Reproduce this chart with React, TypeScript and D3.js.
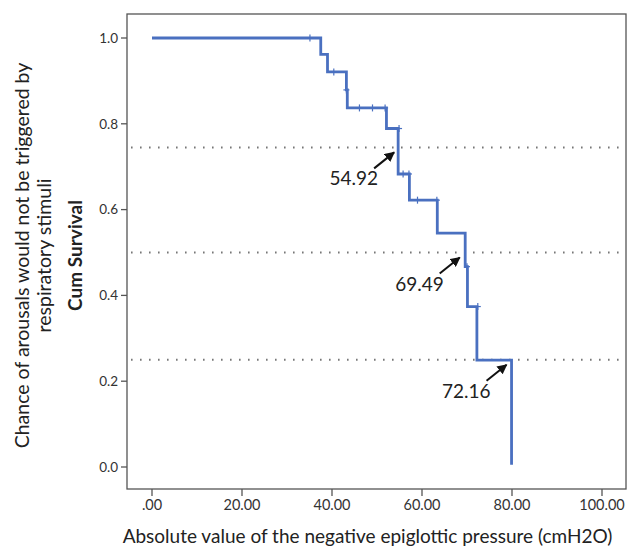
import React from "react";
import * as d3 from "d3";

// step points of the survival curve: time, survival after the drop
const stepTimes = [0, 37.5, 39.0, 43.2, 43.4, 52.1, 54.7, 57.2, 63.4, 69.6, 70.1, 72.2, 79.9];
const stepSurv = [1.0, 0.962, 0.921, 0.879, 0.837, 0.789, 0.683, 0.622, 0.545, 0.467, 0.374, 0.249, 0.005];
const curveEnd = 79.9;

// censored observations
const censorTimes = [35.1, 40.4, 43.2, 46.1, 49.0, 51.8, 54.9, 55.8, 57.1, 59.0, 63.3, 70.0, 72.4];
const censorSurv = [1.0, 0.921, 0.879, 0.837, 0.837, 0.837, 0.789, 0.683, 0.683, 0.622, 0.622, 0.467, 0.374];

// dotted reference levels
const refLevels = [0.745, 0.5, 0.25];

// annotated crossing points
const annoLabels = ["54.92", "69.49", "72.16"];
const annoX = [54.92, 69.49, 79.9];
const annoY = [0.745, 0.5, 0.25];

const xTicks = [0, 20, 40, 60, 80, 100];
const yTicks = [0, 0.2, 0.4, 0.6, 0.8, 1.0];

const xFmt = (v: number) => (v === 0 ? ".00" : v.toFixed(2));

export default function App() {
  const width = 627;
  const height = 546;
  const frame = { left: 127, right: 626, top: 14, bottom: 489 };

  const x = d3.scaleLinear().domain([0, 100]).range([152, 602]);
  const y = d3.scaleLinear().domain([0, 1]).range([467, 38]);

  const pts: [number, number][] = stepTimes.map((t, i) => [t, stepSurv[i]]);
  pts.push([curveEnd, stepSurv[stepSurv.length - 1]]);
  const line = d3
    .line<[number, number]>()
    .x((d) => x(d[0]))
    .y((d) => y(d[1]))
    .curve(d3.curveStepAfter);

  const font = "Lato, 'Open Sans', sans-serif";
  const blue = "#4a70c0";

  return (
    <svg
      width={width}
      height={height}
      style={{ position: "absolute", left: 0, top: 0, background: "#fff" }}
    >
      <defs>
        <marker id="arr" viewBox="0 0 10 10" refX="9" refY="5" markerWidth="5" markerHeight="5" orient="auto">
          <path d="M0,0 L10,5 L0,10 z" fill="#111" />
        </marker>
      </defs>

      {/* frame */}
      <rect
        x={frame.left}
        y={frame.top}
        width={frame.right - frame.left}
        height={frame.bottom - frame.top}
        fill="none"
        stroke="#555"
        strokeWidth={1.3}
      />

      {/* dotted reference lines */}
      {refLevels.map((v, i) => (
        <line
          key={i}
          x1={frame.left + 4}
          x2={frame.right}
          y1={y(v)}
          y2={y(v)}
          stroke="#777"
          strokeWidth={2}
          strokeDasharray="1.6 7.4"
        />
      ))}

      {/* y axis */}
      {yTicks.map((v) => (
        <g key={v}>
          <line x1={frame.left - 6} x2={frame.left} y1={y(v)} y2={y(v)} stroke="#555" strokeWidth={1.3} />
          <text x={frame.left - 9} y={y(v)} dy="0.35em" textAnchor="end" fontSize={13.5} fontFamily={font} fill="#333">
            {v.toFixed(1)}
          </text>
        </g>
      ))}

      {/* x axis */}
      {xTicks.map((v) => (
        <g key={v}>
          <line x1={x(v)} x2={x(v)} y1={frame.bottom} y2={frame.bottom + 7} stroke="#555" strokeWidth={1.3} />
          <text x={x(v)} y={frame.bottom + 21} textAnchor="middle" fontSize={14.5} fontFamily={font} fill="#333">
            {xFmt(v)}
          </text>
        </g>
      ))}

      {/* survival curve */}
      <path d={line(pts) || ""} fill="none" stroke={blue} strokeWidth={2.8} />
      {censorTimes.map((t, i) => (
        <g key={i} stroke={blue} strokeWidth={1.2}>
          <line x1={x(t)} x2={x(t)} y1={y(censorSurv[i]) - 3.5} y2={y(censorSurv[i]) + 3.5} />
          <line x1={x(t) - 3} x2={x(t) + 3} y1={y(censorSurv[i])} y2={y(censorSurv[i])} />
        </g>
      ))}

      {/* annotations */}
      {annoLabels.map((lab, i) => {
        const hx = x(annoX[i]) - 5;
        const hy = y(annoY[i]) + 5;
        return (
          <g key={lab}>
            <line
              x1={hx - 20}
              y1={hy + 16}
              x2={hx}
              y2={hy}
              stroke="#111"
              strokeWidth={2}
              markerEnd="url(#arr)"
            />
            <text x={hx - 16} y={hy + 33} textAnchor="end" fontSize={19} fontFamily={font} fill="#222">
              {lab}
            </text>
          </g>
        );
      })}

      {/* axis titles */}
      <text x={(frame.left + frame.right) / 2 - 9} y={543} textAnchor="middle" fontSize={19} fontFamily={font} fill="#222">
        Absolute value of the negative epiglottic pressure (cmH2O)
      </text>
      <g transform={`translate(0, ${(frame.top + frame.bottom) / 2 + 4})`}>
        <text transform="translate(29,0) rotate(-90)" textAnchor="middle" fontSize={19.5} fontFamily={font} fill="#222">
          Chance of arousals would not be triggered by
        </text>
        <text transform="translate(51,0) rotate(-90)" textAnchor="middle" fontSize={19.5} fontFamily={font} fill="#222">
          respiratory stimuli
        </text>
        <text transform="translate(82,0) rotate(-90)" textAnchor="middle" fontSize={19} fontWeight="bold" fontFamily={font} fill="#222">
          Cum Survival
        </text>
      </g>
    </svg>
  );
}
